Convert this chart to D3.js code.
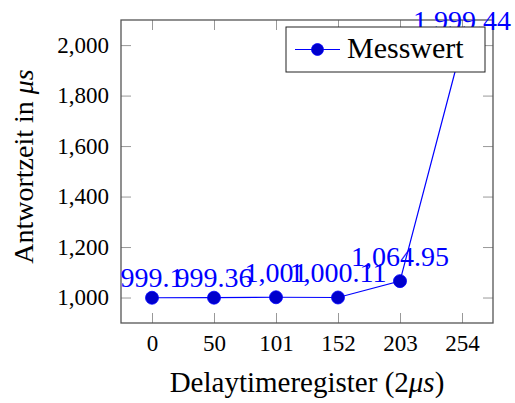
<!DOCTYPE html>
<html>
<head>
<meta charset="utf-8">
<script src="https://cdn.jsdelivr.net/npm/d3@7"></script>
<style>
  body { margin: 0; background: #fff; }
  svg { display: block; }
  text { font-family: "Liberation Serif", serif; }
</style>
</head>
<body>
<div id="grafica"></div>
<script>
// ==============================
// DATOS
// ==============================
const categorias = ["0", "50", "101", "152", "203", "254"];
const valores = [999.1, 999.36, 1001, 1000.11, 1064.95, 1999.44];
const ticksY = [1000, 1200, 1400, 1600, 1800, 2000];
const leyenda = ["Messwert"];

const ANCHO = 515;
const ALTO = 403;
const margen = { top: 20, right: 22, bottom: 80, left: 121 };
const FUENTE = "Liberation Serif, serif";
const AZUL = "#0000ff";
const AZUL_MARCA = "#0000cc";

const svg = d3.select("#grafica")
  .append("svg")
  .attr("width", ANCHO)
  .attr("height", ALTO)
  .attr("viewBox", `0 0 ${ANCHO} ${ALTO}`)
  .attr("font-family", FUENTE);

const x0 = margen.left, x1 = ANCHO - margen.right;
const y0 = ALTO - margen.bottom, y1 = margen.top;

// Escalas (10% de ampliacion como pgfplots)
const x = d3.scalePoint()
  .domain(categorias)
  .range([x0, x1])
  .padding(0.5);

const vMin = d3.min(valores), vMax = d3.max(valores);
const extra = (vMax - vMin) * 0.1;
const y = d3.scaleLinear()
  .domain([vMin - extra, vMax + extra])
  .range([y0, y1]);

// ==============================
// EJES
// ==============================
function estiloEje(g, conTexto) {
  g.attr("font-family", FUENTE);
  g.select(".domain").remove();
  g.selectAll(".tick line").attr("stroke", "#999").attr("stroke-width", 1);
  if (conTexto) {
    g.selectAll(".tick text")
      .attr("fill", "#000")
      .attr("font-family", FUENTE)
      .attr("font-size", 23);
  }
}

svg.append("g")
  .attr("transform", `translate(0,${y0})`)
  .call(d3.axisBottom(x).tickSizeInner(-10).tickSizeOuter(0).tickPadding(12))
  .call(g => estiloEje(g, true));

svg.append("g")
  .attr("transform", `translate(0,${y1})`)
  .call(d3.axisTop(x).tickSizeInner(-10).tickSizeOuter(0).tickFormat(""))
  .call(g => estiloEje(g, false));

svg.append("g")
  .attr("transform", `translate(${x0},0)`)
  .call(d3.axisLeft(y).tickValues(ticksY).tickFormat(d3.format(","))
    .tickSizeInner(-10).tickSizeOuter(0).tickPadding(12))
  .call(g => estiloEje(g, true));

svg.append("g")
  .attr("transform", `translate(${x1},0)`)
  .call(d3.axisRight(y).tickValues(ticksY).tickFormat("")
    .tickSizeInner(-10).tickSizeOuter(0))
  .call(g => estiloEje(g, false));

// Marco
svg.append("rect")
  .attr("x", x0).attr("y", y1)
  .attr("width", x1 - x0).attr("height", y0 - y1)
  .attr("fill", "none")
  .attr("stroke", "#555")
  .attr("stroke-width", 1.3);

// Titulos de ejes
svg.append("text")
  .attr("x", (x0 + x1) / 2)
  .attr("y", 392)
  .attr("text-anchor", "middle")
  .attr("font-family", FUENTE)
  .attr("font-size", 29)
  .html("Delaytimeregister (2<tspan font-style='italic'>μs</tspan>)");

svg.append("text")
  .attr("transform", `translate(33,${(y0 + y1) / 2 - 5}) rotate(-90)`)
  .attr("text-anchor", "middle")
  .attr("font-family", FUENTE)
  .attr("font-size", 28)
  .html("Antwortzeit in <tspan font-style='italic'>μs</tspan>");

// ==============================
// SERIE
// ==============================
const puntos = categorias.map((c, i) => ({ c, v: valores[i] }));

svg.append("path")
  .datum(puntos)
  .attr("fill", "none")
  .attr("stroke", AZUL)
  .attr("stroke-width", 1.2)
  .attr("d", d3.line().x(d => x(d.c)).y(d => y(d.v)));

svg.append("g")
  .selectAll("circle")
  .data(puntos)
  .enter().append("circle")
  .attr("cx", d => x(d.c))
  .attr("cy", d => y(d.v))
  .attr("r", 6.5)
  .attr("fill", AZUL_MARCA)
  .attr("stroke", AZUL)
  .attr("stroke-width", 0.8);

// Etiquetas de valores (nodes near coords)
const fmt = v => d3.format(",.2f")(v).replace(/\.?0+$/, "");

svg.append("g")
  .selectAll("text")
  .data(puntos)
  .enter().append("text")
  .attr("x", d => x(d.c))
  .attr("y", d => y(d.v) - (fmt(d.v).includes(",") ? 15 : 11))
  .attr("text-anchor", "middle")
  .attr("fill", AZUL)
  .attr("font-family", FUENTE)
  .attr("font-size", 28)
  .text(d => fmt(d.v));

// ==============================
// LEYENDA
// ==============================
const leg = svg.append("g").attr("transform", "translate(286,27)");

leg.append("rect")
  .attr("width", 199)
  .attr("height", 45)
  .attr("fill", "#fff")
  .attr("stroke", "#222")
  .attr("stroke-width", 1);

leyenda.forEach((nombre, i) => {
  const fila = leg.append("g").attr("transform", `translate(0,${22.5 + i * 30})`);
  fila.append("line")
    .attr("x1", 9).attr("x2", 54)
    .attr("stroke", AZUL).attr("stroke-width", 1.2);
  fila.append("circle")
    .attr("cx", 31.5).attr("r", 6)
    .attr("fill", AZUL_MARCA).attr("stroke", AZUL).attr("stroke-width", 0.8);
  fila.append("text")
    .attr("x", 61)
    .attr("y", 8)
    .attr("font-family", FUENTE)
    .attr("font-size", 30)
    .text(nombre);
});
</script>
</body>
</html>
